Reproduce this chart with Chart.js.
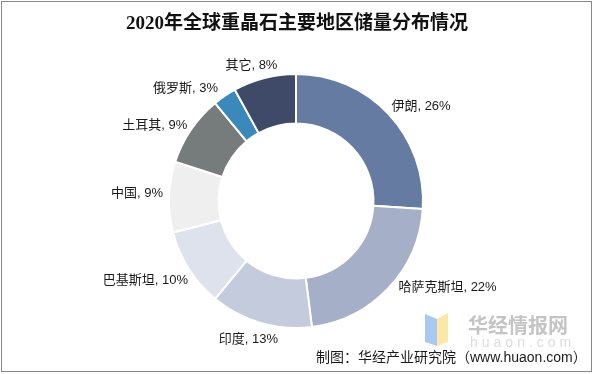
<!DOCTYPE html>
<html>
<head>
<meta charset="utf-8">
<script src="https://cdn.jsdelivr.net/npm/chart.js@4.4.1/dist/chart.umd.min.js"></script>
<style>
  html, body { margin: 0; padding: 0; background: #fff; }
  #wrap { position: relative; width: 594px; height: 374px; overflow: hidden; font-family: "Liberation Sans", "Noto Sans CJK SC", sans-serif; }
  #frame { position: absolute; left: 1px; top: 1px; width: 589px; height: 369px; border: 1px solid #888; }
  #chart { position: absolute; left: 0; top: 0; }
  #title { position: absolute; left: 0; width: 594px; top: 12px; line-height: 22px; text-align: center; font-family: "Liberation Serif", "Noto Sans CJK SC", serif; font-weight: bold; font-size: 19px; color: #111; }
  #wm { position: absolute; left: 424px; top: 312px; }
  #wmText { position: absolute; left: 468px; top: 310px; font-family: "Noto Sans CJK SC", sans-serif; font-weight: bold; font-size: 20px; color: #c4c4c4; }
  #wmUrl { position: absolute; left: 470px; top: 334px; font-size: 14px; color: #dcdcdc; letter-spacing: 4px; }
  #source { position: absolute; left: 316px; top: 346px; font-size: 14px; color: #1a1a1a; white-space: nowrap; }
</style>
</head>
<body>
<div id="wrap">
  <canvas id="chart" width="594" height="374"></canvas>
  <div id="title">2020年全球重晶石主要地区储量分布情况</div>
  <svg id="wm" width="26" height="36">
    <polygon points="1,2 13,7 13,34 1,30" fill="#a9c9f2"/>
    <polygon points="13,7 24,1 24,30 13,34" fill="#fbe8a6"/>
  </svg>
  <div id="wmText">华经情报网</div>
  <div id="wmUrl">huaon.com</div>
  <div id="source">制图：华经产业研究院（www.huaon.com）</div>
  <div id="frame"></div>
</div>
<script>
// 数据
const regions = ['伊朗', '哈萨克斯坦', '印度', '巴基斯坦', '中国', '土耳其', '俄罗斯', '其它'];
const shares = [26, 22, 13, 10, 9, 9, 3, 8];
const sliceColors = ['#667ba2', '#a5b0c8', '#c4cbdc', '#dde2ec', '#efefef', '#767c7c', '#3b88bb', '#3e4a67'];

// 标签绘制插件 (外侧标签)
const outsideLabels = {
  id: 'outsideLabels',
  afterDatasetsDraw(chart, args, opts) {
    const ctx = chart.ctx;
    const meta = chart.getDatasetMeta(0);
    ctx.save();
    ctx.font = opts.font;
    ctx.fillStyle = opts.color;
    ctx.textBaseline = 'middle';
    meta.data.forEach((arc, i) => {
      const p = arc.getProps(['x', 'y', 'startAngle', 'endAngle', 'outerRadius'], true);
      const mid = (p.startAngle + p.endAngle) / 2;
      const r = p.outerRadius + opts.gap;
      const cos = Math.cos(mid), sin = Math.sin(mid);
      const nudge = opts.nudge[i] || [0, 0];
      let x = p.x + r * cos + nudge[0];
      let y = p.y + r * sin + nudge[1];
      if (cos > 0.3) ctx.textAlign = 'left';
      else if (cos < -0.3) ctx.textAlign = 'right';
      else ctx.textAlign = 'center';
      ctx.fillText(chart.data.labels[i] + ', ' + chart.data.datasets[0].data[i] + '%', x, y);
    });
    ctx.restore();
  }
};

new Chart(document.getElementById('chart'), {
  type: 'doughnut',
  data: {
    labels: regions,
    datasets: [{
      data: shares,
      backgroundColor: sliceColors,
      borderColor: '#ffffff',
      borderWidth: 2,
      hoverOffset: 0
    }]
  },
  options: {
    responsive: false,
    animation: false,
    cutout: '61%',
    layout: { padding: { top: 73, bottom: 45, left: 100, right: 102 } },
    plugins: {
      legend: { display: false },
      tooltip: { enabled: false },
      outsideLabels: {
        font: '13px "Liberation Sans", "Noto Sans CJK SC", sans-serif',
        color: '#1a1a1a',
        gap: 8,
        nudge: [[-3, -2], [4, -6], [-10, 9], [6, 7], [2, -3], [3, 0], [-2, -1], [-11, -5]]
      }
    }
  },
  plugins: [outsideLabels]
});
</script>
</body>
</html>
